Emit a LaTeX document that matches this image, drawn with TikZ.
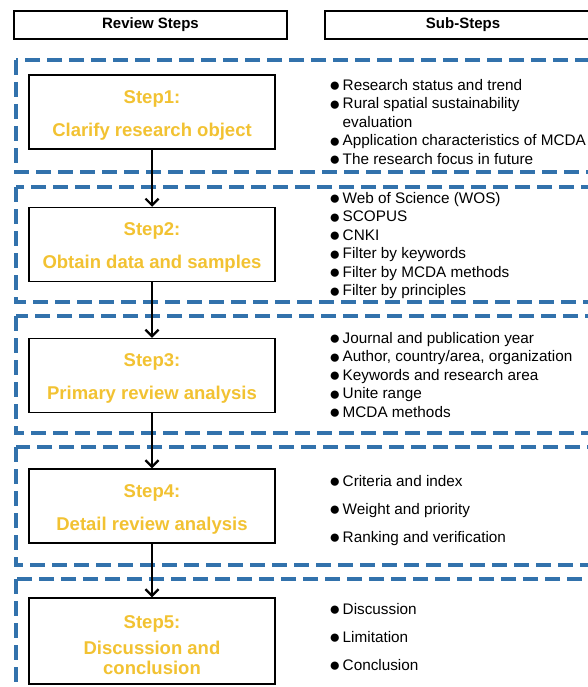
\documentclass[tikz,border=0pt]{standalone}
\usepackage{fontspec}
\setmainfont{Liberation Sans}
\usetikzlibrary{arrows.meta}
\definecolor{panelblue}{RGB}{50,114,172}
\definecolor{stepyellow}{RGB}{242,194,50}
\tikzstyle{panelline}=[draw=panelblue,line width=3.3pt,dash pattern=on 15pt off 7pt]
\tikzstyle{headerelement}=[draw,line width=1.2pt,minimum height=28pt,inner sep=0pt,font=\fontsize{15}{18}\selectfont\bfseries]
\tikzstyle{stepelement}=[draw,line width=1.5pt,fill=white,minimum width=246pt,minimum height=74pt,inner sep=0pt,align=center,text=stepyellow,font=\fontsize{18.5}{20}\selectfont\bfseries]
\tikzstyle{sublabel}=[anchor=north west,inner sep=0pt,align=left,font=\fontsize{15.3}{18.5}\selectfont]
\tikzstyle{steparc}=[-{Straight Barb[length=6.5pt,width=13pt,line width=2.2pt]},line width=2.5pt]
\newcommand{\bul}{\makebox[13.5pt][l]{\raisebox{-1.6pt}{\fontsize{19}{18}\selectfont●}}}
\newcommand{\bulgap}{\hspace*{13.5pt}}
\newcommand{\steptop}[1]{\rule{0pt}{#1}}

\begin{document}
\begin{tikzpicture}[x=1pt,y=-1pt]
\useasboundingbox (0,0) rectangle (588,687);
\clip (0,0) rectangle (588,687);

% dashed panels
\draw[panelline] (16,60) rectangle (620,172);
\draw[panelline] (16,187) rectangle (620,302);
\draw[panelline] (16,316) rectangle (620,433);
\draw[panelline] (16,447) rectangle (620,565);
\draw[panelline] (16,579) rectangle (620,720);

% headers
\node[headerelement,minimum width=273pt] (HSTEPS) at (150.5,25) {Review Steps};
\node[headerelement,minimum width=276pt] (HSUB) at (463,25) {Sub-Steps};

% review steps
\node[stepelement] (S1) at (152,112) {\steptop{19pt}Step1:\\[13pt]Clarify research object};
\node[stepelement] (S2) at (152,244.5) {\steptop{19pt}Step2:\\[13pt]Obtain data and samples};
\node[stepelement] (S3) at (152,375.5) {\steptop{19pt}Step3:\\[13pt]Primary review analysis};
\node[stepelement] (S4) at (152,506) {\steptop{19pt}Step4:\\[13pt]Detail review analysis};
\node[stepelement,minimum height=86pt] (S5) at (152,641) {\steptop{22pt}Step5:\\[6pt]Discussion and\\conclusion};

\draw[steparc] (S1.south) -- (S2.north);
\draw[steparc] (S2.south) -- (S3.north);
\draw[steparc] (S3.south) -- (S4.north);
\draw[steparc] (S4.south) -- (S5.north);

% sub-steps
\node[sublabel] (L1) at (329,79) {\bul Research status and trend\\\bul Rural spatial sustainability\\\bulgap evaluation\\\bul Application characteristics of MCDA\\\bul The research focus in future};
\node[sublabel] (L2) at (329,192) {\bul Web of Science (WOS)\\\bul SCOPUS\\\bul CNKI\\\bul Filter by keywords\\\bul Filter by MCDA methods\\\bul Filter by principles};
\node[sublabel] (L3) at (329,332) {\bul Journal and publication year\\\bul Author, country/area, organization\\\bul Keywords and research area\\\bul Unite range\\\bul MCDA methods};
\node[sublabel] (L4) at (329,475) {\bul Criteria and index\\[9.5pt]\bul Weight and priority\\[9.5pt]\bul Ranking and verification};
\node[sublabel] (L5) at (329,603) {\bul Discussion\\[9.5pt]\bul Limitation\\[9.5pt]\bul Conclusion};

\end{tikzpicture}
\end{document}
